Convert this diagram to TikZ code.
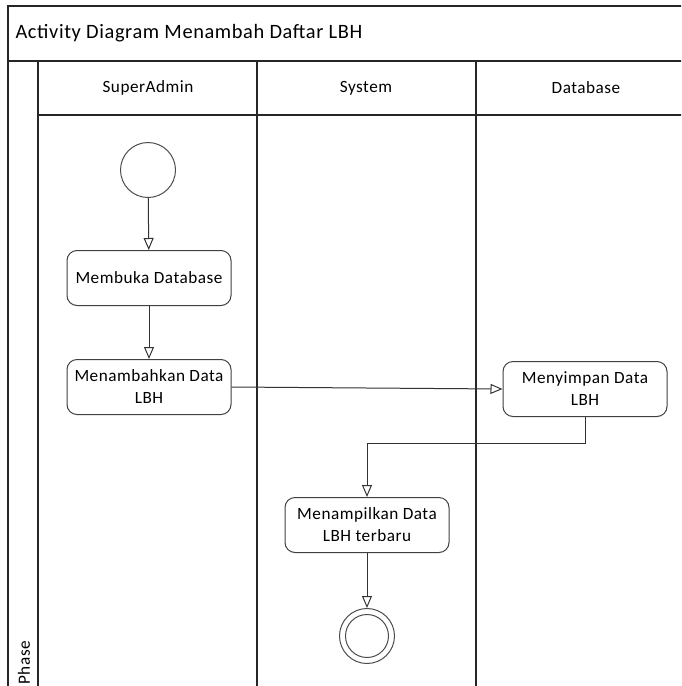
\documentclass[tikz,border=0pt]{standalone}
\usepackage{fontspec}
\setmainfont{Carlito}[LetterSpace=3]
\usetikzlibrary{arrows.meta}
\begin{document}
\begin{tikzpicture}[x=1pt,y=-1pt,
  lane/.style={draw=black!85,line width=1.2pt},
  action/.style={draw=black!75,line width=1pt,rounded corners=10pt,fill=white,
    minimum width=164pt,minimum height=55pt,align=center,inner sep=2pt,
    font=\fontsize{17.2}{22}\selectfont},
  lanehead/.style={font=\fontsize{17.2}{20}\selectfont},
  flow/.style={draw=black!80,line width=1pt,
    -{Triangle[open,length=12pt,width=10pt,fill=white]}},
  initial/.style={circle,draw=black!70,line width=1pt,minimum size=55pt,inner sep=0pt},
  finalring/.style={circle,draw=black!70,line width=1pt,minimum size=55pt,inner sep=0pt}
]
\useasboundingbox (0,0) rectangle (681,686);
\clip (0,0) rectangle (681,686);

% swimlane frame
\draw[lane] (8,700) -- (8,6) -- (700,6);
\draw[lane] (8,61) -- (700,61);
\draw[lane] (38,115) -- (700,115);
\draw[lane] (38,61) -- (38,700);
\draw[lane] (257,61) -- (257,700);
\draw[lane] (476,61) -- (476,700);

% titles
\node[anchor=west,font=\fontsize{20.4}{24}\selectfont] (title) at (12,33) {Activity Diagram Menambah Daftar LBH};
\node[lanehead] (h1) at (148,88) {SuperAdmin};
\node[lanehead] (h2) at (366,88) {System};
\node[lanehead] (h3) at (586,88) {Database};
\node[rotate=90,anchor=west,font=\fontsize{17.2}{20}\selectfont] (phase) at (24,688) {Phase};

% activities
\node[initial] (start) at (148,170) {};
\node[action] (a1) at (149,278) {Membuka Database};
\node[action] (a2) at (149,387) {Menambahkan Data\\LBH};
\node[action] (a3) at (585,389) {Menyimpan Data\\LBH};
\node[action] (a4) at (367,525) {Menampilkan Data\\LBH terbaru};
\node[finalring] (end) at (367,636) {};
\node[circle,draw=black!70,line width=1pt,minimum size=43pt,inner sep=0pt] (endin) at (end) {};

% control flow
\draw[flow] (start) -- (a1);
\draw[flow] (a1) -- (a2);
\draw[flow] (a2.east) -- (a3.west);
\draw[flow] (a3.south) |- (367,443) -- (a4.north);
\draw[flow] (a4) -- (end);
\end{tikzpicture}
\end{document}
